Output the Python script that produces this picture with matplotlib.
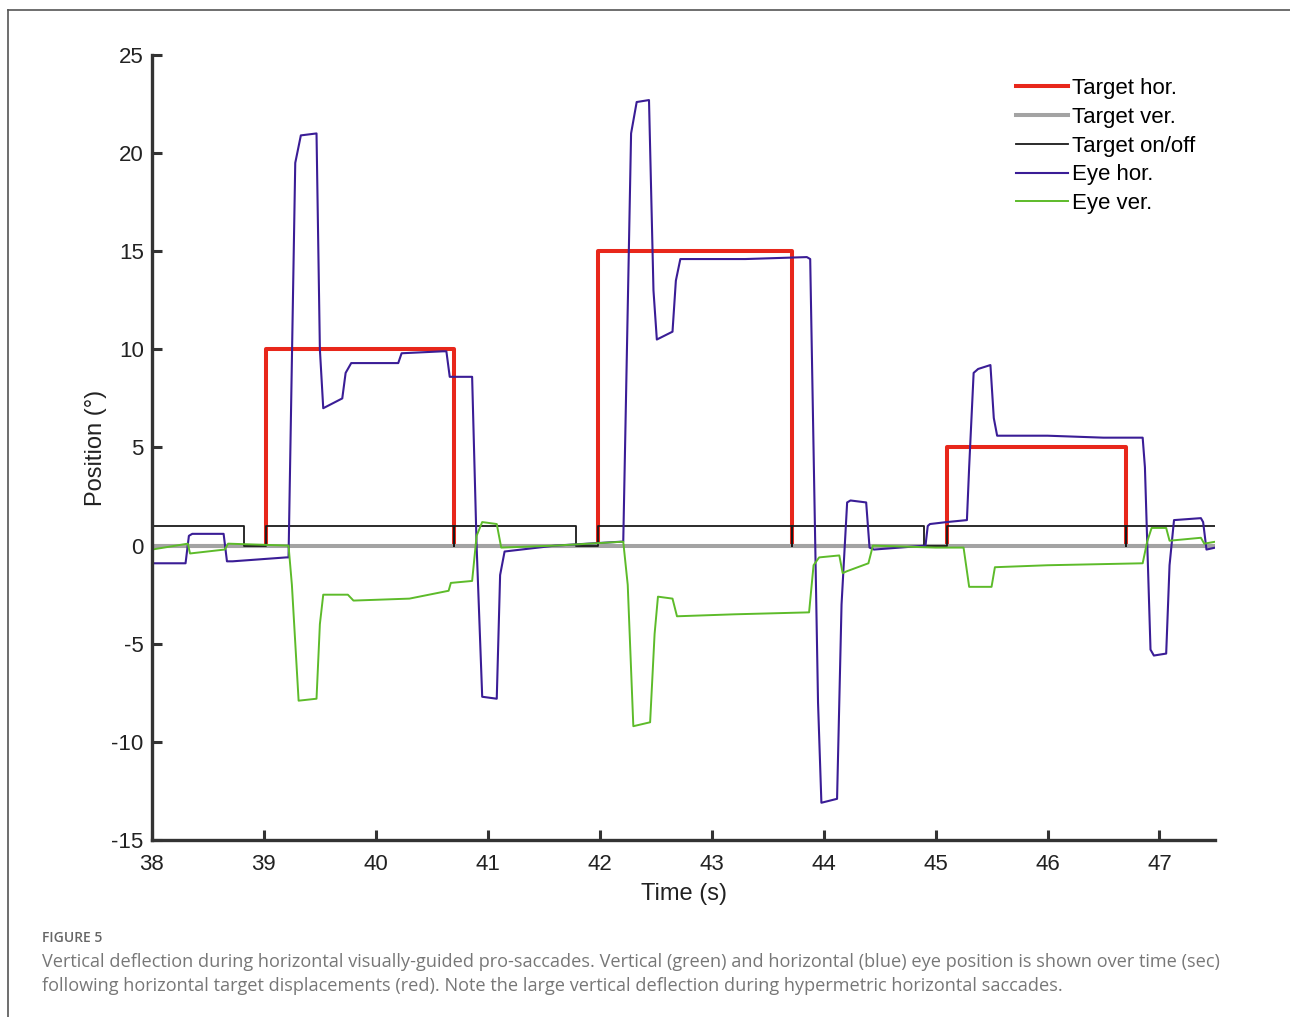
import matplotlib.pyplot as plt
import matplotlib.lines as mlines

# target traces (step functions)
tgt_hor_t = [38.0, 39.02, 39.02, 40.70, 40.70, 41.98, 41.98, 43.72, 43.72, 45.10, 45.10, 46.70, 46.70, 47.5]
tgt_hor_y = [0, 0, 10, 10, 0, 0, 15, 15, 0, 0, 5, 5, 0, 0]

tgt_ver_t = [38.0, 47.5]
tgt_ver_y = [0, 0]

onoff_t = [38.0, 38.82, 38.82, 39.02, 39.02, 40.70, 40.70, 40.70, 41.79, 41.79, 41.98, 41.98,
           43.72, 43.72, 43.72, 44.90, 44.90, 45.10, 45.10, 46.70, 46.70, 46.70, 47.5]
onoff_y = [1, 1, 0, 0, 1, 1, 0, 1, 1, 0, 0, 1,
           1, 0, 1, 1, 0, 0, 1, 1, 0, 1, 1]

# eye traces
eye_hor_t = [38.0, 38.30, 38.33, 38.36, 38.64, 38.67, 38.72, 39.20, 39.22, 39.28, 39.33, 39.47,
             39.50, 39.53, 39.70, 39.73, 39.78, 40.20, 40.23, 40.60, 40.63, 40.66, 40.86, 40.90,
             40.95, 41.08, 41.11, 41.15, 41.60, 42.19, 42.21, 42.28, 42.33, 42.44, 42.48, 42.51,
             42.65, 42.68, 42.72, 43.30, 43.85, 43.88, 43.95, 43.98, 44.12, 44.16, 44.21, 44.24,
             44.38, 44.41, 44.45, 44.91, 44.93, 44.95, 45.10, 45.28, 45.30, 45.34, 45.38, 45.49,
             45.52, 45.55, 46.00, 46.50, 46.85, 46.87, 46.92, 46.95, 47.06, 47.09, 47.13, 47.37,
             47.39, 47.42, 47.5]
eye_hor_y = [-0.9, -0.9, 0.5, 0.6, 0.6, -0.8, -0.8, -0.6, -0.6, 19.5, 20.9, 21.0,
             10.0, 7.0, 7.5, 8.8, 9.3, 9.3, 9.8, 9.9, 9.9, 8.6, 8.6, 0.0,
             -7.7, -7.8, -1.5, -0.3, 0.0, 0.2, 0.2, 21.0, 22.6, 22.7, 13.0, 10.5,
             10.9, 13.5, 14.6, 14.6, 14.7, 14.6, -8.0, -13.1, -12.9, -3.0, 2.2, 2.3,
             2.2, -0.1, -0.2, 0.0, 1.0, 1.1, 1.2, 1.3, 4.0, 8.8, 9.0, 9.2,
             6.5, 5.6, 5.6, 5.5, 5.5, 4.0, -5.3, -5.6, -5.5, -1.0, 1.3, 1.4,
             1.2, -0.2, -0.1]

eye_ver_t = [38.0, 38.32, 38.34, 38.65, 38.68, 39.22, 39.25, 39.31, 39.47, 39.50, 39.53, 39.75,
             39.80, 40.30, 40.65, 40.67, 40.86, 40.90, 40.95, 41.08, 41.12, 41.60, 42.21, 42.25,
             42.30, 42.45, 42.49, 42.52, 42.65, 42.69, 43.20, 43.87, 43.91, 43.96, 44.14, 44.17,
             44.21, 44.40, 44.44, 45.00, 45.25, 45.30, 45.50, 45.53, 46.00, 46.85, 46.89, 46.93,
             47.06, 47.09, 47.37, 47.40, 47.5]
eye_ver_y = [-0.2, 0.1, -0.4, -0.2, 0.1, 0.0, -2.0, -7.9, -7.8, -4.0, -2.5, -2.5,
             -2.8, -2.7, -2.3, -1.9, -1.8, 0.5, 1.2, 1.1, -0.1, 0.0, 0.2, -2.0,
             -9.2, -9.0, -4.5, -2.6, -2.7, -3.6, -3.5, -3.4, -1.0, -0.6, -0.5, -1.4,
             -1.3, -0.9, 0.0, -0.1, -0.1, -2.1, -2.1, -1.1, -1.0, -0.9, 0.2, 0.9,
             0.9, 0.25, 0.4, 0.1, 0.2]

plt.rcParams['font.family'] = ['Liberation Sans', 'DejaVu Sans']
plt.rcParams['axes.unicode_minus'] = False

fig = plt.figure(figsize=(12.9, 10.17), dpi=100)
ax = fig.add_axes([0.1178, 0.174, 0.8244, 0.772])

ax.plot(tgt_hor_t, tgt_hor_y, color='#e8271b', lw=2.9, label='Target hor.')
ax.plot(tgt_ver_t, tgt_ver_y, color='#a3a3a3', lw=2.9, label='Target ver.')
ax.plot(onoff_t, onoff_y, color='#1a1a1a', lw=1.3, label='Target on/off')
ax.plot(eye_hor_t, eye_hor_y, color='#3a1d96', lw=1.5, label='Eye hor.')
ax.plot(eye_ver_t, eye_ver_y, color='#5dbb2a', lw=1.4, label='Eye ver.')

ax.set_xlim(38, 47.5)
ax.set_ylim(-15, 25)
ax.set_xticks(range(38, 48))
ax.set_yticks(range(-15, 26, 5))
ax.tick_params(direction='in', length=7, width=2.2, colors='#333333', labelsize=16)
ax.tick_params(labelcolor='#222222')
ax.tick_params(axis='x', pad=10)
ax.tick_params(axis='y', pad=6)
for s in ['top', 'right']:
    ax.spines[s].set_visible(False)
for s in ['left', 'bottom']:
    ax.spines[s].set_linewidth(2.4)
    ax.spines[s].set_color('#333333')

ax.set_xlabel('Time (s)', fontsize=17, color='#222222', labelpad=6)
ax.set_ylabel('Position (°)', fontsize=17, color='#222222', labelpad=3)

leg = ax.legend(loc='upper right', bbox_to_anchor=(1.0, 0.996), frameon=False, fontsize=16,
                handlelength=2.35, handletextpad=0.2, labelspacing=0.35)

# outer frame of the figure panel
fig.add_artist(mlines.Line2D([8 / 1290, 8 / 1290], [0, 1 - 10 / 1017], color='#555555', lw=1.2))
fig.add_artist(mlines.Line2D([8 / 1290, 1], [1 - 10 / 1017, 1 - 10 / 1017], color='#555555', lw=1.2))

fig.text(42 / 1290, 1 - 938 / 1017, 'FIGURE 5', fontsize=10, color='#666666',
         family='Open Sans', va='center', weight='semibold')
fig.text(42 / 1290, 1 - 962 / 1017,
         'Vertical deflection during horizontal visually-guided pro-saccades. Vertical (green) and '
         'horizontal (blue) eye position is shown over time (sec)',
         fontsize=13.1, color='#777777', family='Open Sans', va='center')
fig.text(42 / 1290, 1 - 986 / 1017,
         'following horizontal target displacements (red). Note the large vertical deflection during '
         'hypermetric horizontal saccades.',
         fontsize=13.1, color='#777777', family='Open Sans', va='center')

fig.savefig('out.png', dpi=100)
